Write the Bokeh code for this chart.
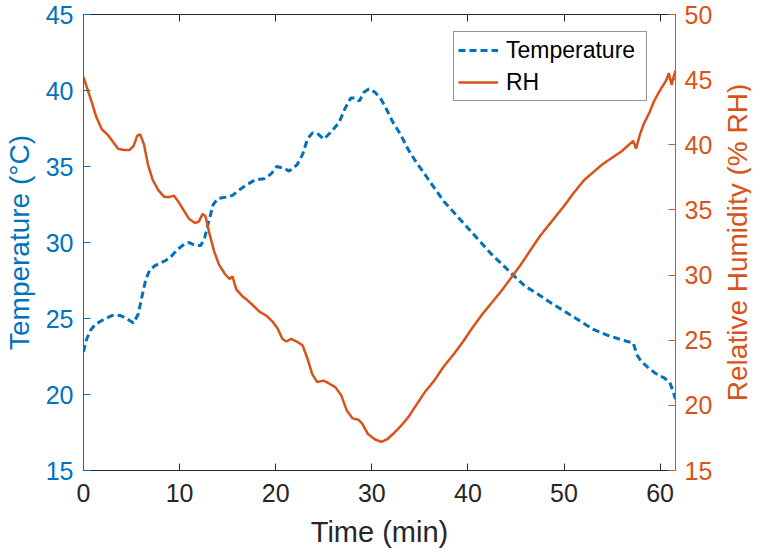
from bokeh.plotting import figure
from bokeh.models import Range1d, LinearAxis, FixedTicker
from bokeh.layouts import row
from bokeh.embed import file_html
from bokeh.resources import INLINE

# ---- data ----
temp_t = [0.0, 0.3, 0.7, 1.2, 2.0, 3.0, 3.8, 4.5, 5.2, 5.7, 6.1, 6.5, 6.9, 7.5, 8.5, 9.0, 9.7,
          10.5, 11.0, 11.6, 12.2, 12.6, 13.0, 13.5, 14.0, 15.0, 15.5, 16.3, 17.0, 17.8, 18.8,
          19.5, 20.1, 20.8, 21.4, 22.2, 22.8, 23.3, 23.8, 24.3, 25.0, 25.8, 26.6, 27.2, 27.8,
          28.3, 28.7, 29.2, 29.7, 30.3, 30.9, 31.5, 32.2, 33.0, 33.8, 34.6, 35.5, 36.5, 37.5,
          38.5, 39.5, 40.5, 41.5, 42.5, 43.5, 44.8, 46.0, 47.3, 48.7, 50.0, 51.5, 53.0, 54.5,
          55.5, 56.5, 57.2, 57.6, 58.0, 58.7, 59.5, 60.4, 61.0, 61.3, 61.6]
temp_v = [22.8, 23.6, 24.2, 24.6, 24.9, 25.2, 25.2, 25.0, 24.7, 25.3, 26.5, 27.6, 28.2, 28.5,
          28.8, 29.0, 29.5, 29.9, 30.0, 29.8, 29.8, 30.3, 31.3, 32.5, 32.9, 33.0, 33.1, 33.5,
          33.8, 34.1, 34.2, 34.5, 35.0, 34.9, 34.7, 35.1, 35.8, 36.8, 37.2, 37.2, 36.8, 37.3,
          37.9, 38.8, 39.5, 39.5, 39.3, 39.9, 40.1, 39.9, 39.5, 38.8, 37.9, 37.1, 36.1, 35.3,
          34.5, 33.6, 32.7, 32.0, 31.3, 30.6, 29.9, 29.2, 28.6, 27.8, 27.1, 26.6, 26.0, 25.5,
          24.9, 24.3, 23.9, 23.7, 23.5, 23.4, 22.6, 22.2, 21.8, 21.4, 21.1, 20.8, 20.3, 19.7]

rh_t = [0.0, 0.4, 0.8, 1.3, 1.9, 2.6, 3.1, 3.6, 4.2, 4.8, 5.2, 5.6, 5.9, 6.3, 6.7, 7.2, 7.8,
        8.4, 9.0, 9.4, 9.9, 10.4, 11.0, 11.6, 12.0, 12.4, 12.7, 13.1, 13.6, 14.1, 14.7, 15.2,
        15.5, 15.9, 16.5, 17.0, 17.6, 18.3, 19.0, 19.7, 20.2, 20.7, 21.1, 21.6, 22.2, 22.8,
        23.3, 23.8, 24.3, 25.0, 25.5, 26.2, 26.8, 27.4, 28.0, 28.6, 29.0, 29.6, 30.3, 31.0,
        31.6, 32.2, 33.0, 33.8, 34.6, 35.5, 36.5, 37.5, 38.5, 39.5, 40.5, 41.5, 42.5, 43.5,
        44.5, 45.5, 46.5, 47.5, 48.7, 50.0, 51.0, 52.1, 53.2, 54.0, 55.0, 56.0, 57.2, 57.5,
        57.9, 58.3, 58.9, 59.4, 60.0, 60.6, 60.9, 61.2, 61.4, 61.6]
rh_v = [45.2, 44.3, 43.4, 42.2, 41.2, 40.7, 40.2, 39.7, 39.6, 39.6, 39.9, 40.7, 40.8, 40.0,
        38.5, 37.3, 36.5, 36.0, 36.0, 36.1, 35.6, 35.0, 34.3, 34.0, 34.1, 34.7, 34.5, 33.2,
        31.8, 30.8, 30.1, 29.7, 29.9, 28.9, 28.4, 28.1, 27.7, 27.2, 26.9, 26.4, 25.9, 25.1,
        24.9, 25.1, 24.9, 24.6, 23.6, 22.4, 21.8, 21.9, 21.7, 21.4, 20.8, 19.6, 19.0, 18.9,
        18.6, 17.8, 17.4, 17.2, 17.4, 17.8, 18.4, 19.1, 20.0, 21.0, 21.9, 23.0, 23.9, 24.9,
        26.0, 27.0, 27.9, 28.8, 29.8, 30.8, 31.9, 33.0, 34.1, 35.3, 36.3, 37.3, 38.0, 38.5,
        39.0, 39.5, 40.3, 39.7, 40.8, 41.6, 42.5, 43.4, 44.2, 44.9, 45.5, 44.6, 45.2, 45.7]

x_ticks = [0, 10, 20, 30, 40, 50, 60]
temp_ticks = [15, 20, 25, 30, 35, 40, 45]
rh_ticks = [15, 20, 25, 30, 35, 40, 45, 50]

BLUE = "#0072BD"
ORANGE = "#D95319"
DARK = "#262626"
FONT = "Liberation Sans"
H = 559

p = figure(frame_width=592, frame_height=456, output_backend="svg", toolbar_location=None,
           x_range=Range1d(0, 61.6), y_range=Range1d(15, 45),
           min_border_left=74, min_border_right=40, min_border_top=14, min_border_bottom=89)
p.extra_y_ranges = {"rh": Range1d(15, 50)}
p.grid.visible = False
p.outline_line_color = None
p.background_fill_color = "white"
p.border_fill_color = "white"

p.line(temp_t, temp_v, line_color=BLUE, line_width=3, line_dash="7 4", legend_label="Temperature")
p.line(rh_t, rh_v, line_color=ORANGE, line_width=2.5, y_range_name="rh", legend_label="RH")

def style(ax, color, ticks):
    ax.ticker = FixedTicker(ticks=ticks)
    ax.axis_line_color = color
    ax.axis_line_width = 1
    ax.major_tick_line_color = color
    ax.major_tick_in = 7
    ax.major_tick_out = 0
    ax.minor_tick_line_color = None
    ax.major_label_text_color = color
    ax.major_label_text_font = FONT
    ax.major_label_text_font_size = "25px"
    ax.axis_label_text_font = FONT
    ax.axis_label_text_font_size = "28px"
    ax.axis_label_text_font_style = "normal"
    ax.axis_label_text_color = color

xa = p.xaxis[0]
style(xa, DARK, x_ticks)
xa.axis_label = "Time (min)"
xa.axis_label_text_font_size = "29px"
xa.major_label_standoff = 13
xa.axis_label_standoff = 11

ya = p.yaxis[0]
style(ya, BLUE, temp_ticks)
ya.axis_label = "Temperature (°C)"
ya.major_label_standoff = 10
ya.axis_label_standoff = 8

ra = LinearAxis(y_range_name="rh")
style(ra, ORANGE, rh_ticks)
ra.major_label_standoff = 9
p.add_layout(ra, "right")

# top box edge: ticks only (as minor ticks, so no labels are drawn)
ta = LinearAxis(ticker=FixedTicker(ticks=[], minor_ticks=x_ticks))
ta.axis_line_color = DARK
ta.major_tick_line_color = None
ta.minor_tick_line_color = DARK
ta.minor_tick_in = 7
ta.minor_tick_out = 0
ta.major_label_standoff = 0
p.add_layout(ta, "above")

lg = p.legend[0]
lg.location = (370, 369)
lg.label_text_font = FONT
lg.label_text_font_size = "23px"
lg.label_text_color = "black"
lg.border_line_color = DARK
lg.border_line_width = 1
lg.background_fill_alpha = 1
lg.glyph_width = 40
lg.glyph_height = 28
lg.label_height = 28
lg.label_width = 136
lg.label_standoff = 8
lg.padding = 4
lg.spacing = 4
lg.margin = 0

# narrow companion figure carrying the right-hand axis title (reads bottom-to-top)
q = figure(width=36, height=H, output_backend="svg", toolbar_location=None,
           x_range=Range1d(0, 1), y_range=Range1d(15, 50),
           min_border_left=31, min_border_right=0, min_border_top=14, min_border_bottom=89)
q.grid.visible = False
q.outline_line_color = None
q.xaxis.visible = False
qa = q.yaxis[0]
qa.ticker = FixedTicker(ticks=[], minor_ticks=[])
qa.axis_line_color = None
qa.major_tick_line_color = None
qa.minor_tick_line_color = None
qa.major_tick_in = 0
qa.major_tick_out = 0
qa.major_label_standoff = 0
qa.axis_label = "Relative Humidity (% RH)"
qa.axis_label_text_font = FONT
qa.axis_label_text_font_size = "28px"
qa.axis_label_text_font_style = "normal"
qa.axis_label_text_color = ORANGE
qa.axis_label_standoff = -6

layout = row(p, q, spacing=0)
open("out.html", "w").write(file_html(layout, INLINE))
